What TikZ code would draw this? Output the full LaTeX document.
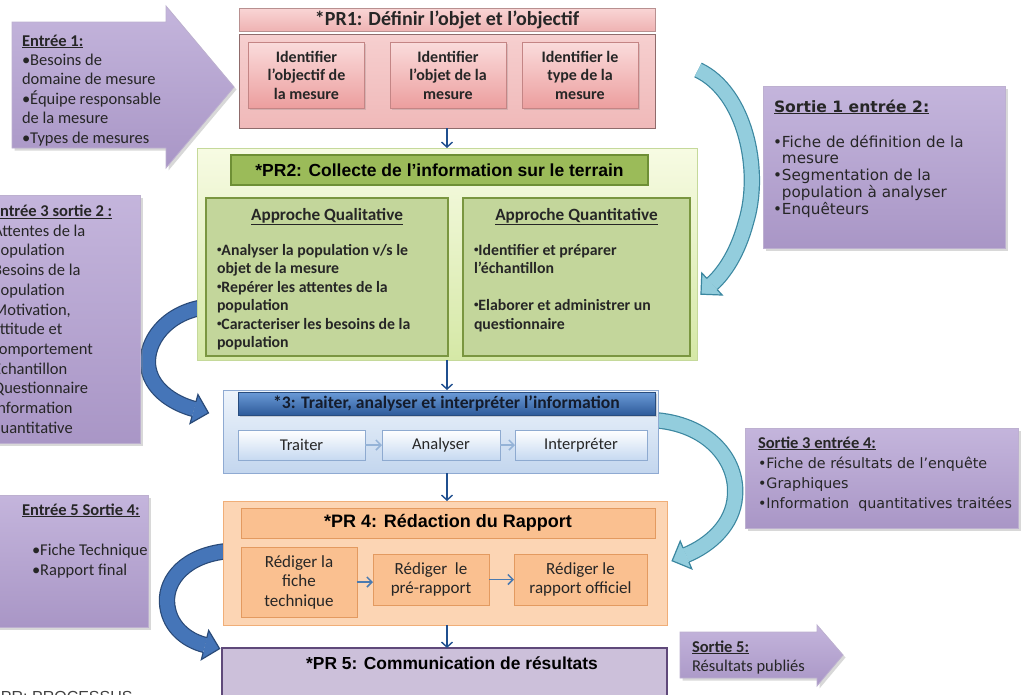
\documentclass[tikz,border=0pt]{standalone}
\usepackage{fontspec}
\setmainfont{Carlito}
\newfontfamily\arialf{Liberation Sans}
\newfontfamily\verdf{DejaVu Sans}
\usetikzlibrary{shadows,calc,arrows.meta}
\definecolor{txtc}{HTML}{262626}
\definecolor{purpT}{HTML}{C4B5DC}
\definecolor{purpB}{HTML}{A996C6}
\definecolor{purpBd}{HTML}{BDB0D0}
\definecolor{pinkHdT}{HTML}{F9D5D5}
\definecolor{pinkHdB}{HTML}{EFB3B3}
\definecolor{pinkHdBd}{HTML}{B89090}
\definecolor{pinkT}{HTML}{F6CFCF}
\definecolor{pinkB}{HTML}{F0B9B9}
\definecolor{pinkBd}{HTML}{8F6B6B}
\definecolor{pinkInT}{HTML}{FADCDC}
\definecolor{pinkInB}{HTML}{EC9E9E}
\definecolor{pinkInBd}{HTML}{C48585}
\definecolor{grnT}{HTML}{F7FBE3}
\definecolor{grnB}{HTML}{D5E8A6}
\definecolor{grnBd}{HTML}{C5D99A}
\definecolor{grnHd}{HTML}{9BBB59}
\definecolor{grnHdBd}{HTML}{6E8F35}
\definecolor{grnIn}{HTML}{C3D69B}
\definecolor{grnInBd}{HTML}{7A9640}
\definecolor{bluT}{HTML}{EEF4FB}
\definecolor{bluB}{HTML}{C3D6EE}
\definecolor{bluBd}{HTML}{8FAAD2}
\definecolor{bluHdT}{HTML}{6B9BD8}
\definecolor{bluHdB}{HTML}{2E5B9A}
\definecolor{bluHdBd}{HTML}{284C7E}
\definecolor{hdr3txt}{HTML}{141C2C}
\definecolor{bluInT}{HTML}{FFFFFF}
\definecolor{bluInB}{HTML}{C6D9F1}
\definecolor{bluInBd}{HTML}{8EAAD0}
\definecolor{bluAr}{HTML}{95B3D7}
\definecolor{orBox}{HTML}{FCD5B4}
\definecolor{orBoxBd}{HTML}{F0AE78}
\definecolor{orIn}{HTML}{FAC090}
\definecolor{orInBd}{HTML}{E39A60}
\definecolor{orAr}{HTML}{4A7AB0}
\definecolor{pr5c}{HTML}{CCC0DA}
\definecolor{pr5Bd}{HTML}{5F497A}
\definecolor{downc}{HTML}{1F4F8F}
\definecolor{lFill}{HTML}{4575B8}
\definecolor{lBd}{HTML}{2A4A78}
\definecolor{rFill}{HTML}{93CDDD}
\definecolor{rBd}{HTML}{3B87A0}
\definecolor{procc}{HTML}{404040}
\newcommand\fs[2]{\fontsize{#1}{#2}\selectfont}
\newcommand\tl[1]{\begin{tabular}[t]{@{}l@{}}#1\end{tabular}}
\newcommand\uln[1]{\underline{#1}}
\newcommand\sbul{\raisebox{0.18em}{\fontsize{9}{9}\selectfont•}}
\newcommand\bhead[4]{%
  \fill[#3] ($(#1)!15pt!90:(#2)$) -- (#2) -- ($(#1)!15pt!-90:(#2)$) -- cycle;
  \draw[#4,line width=1.2pt,line join=miter] ($(#1)!7.6pt!90:(#2)$) -- ($(#1)!15pt!90:(#2)$) -- (#2) -- ($(#1)!15pt!-90:(#2)$) -- ($(#1)!7.6pt!-90:(#2)$);}
\begin{document}
\begin{tikzpicture}[x=1pt,y=-1pt,
  box/.style={rectangle,inner sep=0pt,outer sep=0pt},
  lbl/.style={inner sep=0pt,outer sep=0pt,text=txtc},
  purp/.style={top color=purpT,bottom color=purpB,draw=purpBd,line width=0.8pt,drop shadow={shadow xshift=2.5pt,shadow yshift=-2.5pt,opacity=0.3}},
  down/.style={draw=downc,line width=1.4pt,-{Straight Barb[length=5pt,width=11pt]}},
  curvL/.style={draw=lBd,double=lFill,line width=1.2pt,double distance=14pt},
  curvR/.style={draw=rBd,double=rFill,line width=1.2pt,double distance=14pt},
  pinkin/.style={box,top color=pinkInT,bottom color=pinkInB,draw=pinkInBd,line width=0.8pt,minimum width=116pt,minimum height=66pt,align=center,font=\fs{16}{18.5}\bfseries,text=txtc,drop shadow={shadow xshift=1.5pt,shadow yshift=-1.5pt,opacity=0.25}},
  greenin/.style={box,fill=grnIn,draw=grnInBd,line width=1.8pt},
  bluein/.style={box,top color=bluInT,bottom color=bluInB,draw=bluInBd,line width=0.8pt,minimum height=30pt,font=\fs{16.5}{19},text=txtc},
  blar/.style={draw=bluAr,line width=1.5pt,-{Straight Barb[length=5pt,width=10pt]}},
  orin/.style={box,fill=orIn,draw=orInBd,line width=0.8pt,align=center,font=\fs{17}{19.5},text=txtc,minimum height=51pt},
  orar/.style={draw=orAr,line width=1.5pt,-{Straight Barb[length=5pt,width=10pt]}}
]
\useasboundingbox (0,0) rectangle (1023,694);
\fill[white] (0,0) rectangle (1023,694);

% ---------- curved arrows (behind boxes) ----------
\coordinate (ra1s) at (698,70);
\coordinate (ra1m) at (746,222);
\coordinate (ra1d) at (725,272);
\coordinate (ra1e) at (712,284);
\coordinate (ra1t) at ($(ra1e)!-15pt!(ra1d)$);
\draw[curvR] (ra1s) .. controls (745,92) and (762,170) .. (ra1m) .. controls (738,252) and (ra1d) .. (ra1e);
\bhead{ra1e}{ra1t}{rFill}{rBd}

\coordinate (ra2s) at (652,420);
\coordinate (ra2m) at (735,496);
\coordinate (ra2d) at (710,545);
\coordinate (ra2e) at (686,555);
\coordinate (ra2t) at ($(ra2e)!-15pt!(ra2d)$);
\draw[curvR] (ra2s) .. controls (708,423) and (738,460) .. (ra2m) .. controls (733,525) and (ra2d) .. (ra2e);
\bhead{ra2e}{ra2t}{rFill}{rBd}

\coordinate (la1s) at (205,307);
\coordinate (la1m) at (148,365);
\coordinate (la1d) at (172,403);
\coordinate (la1e) at (194,409);
\coordinate (la1t) at ($(la1e)!-15pt!(la1d)$);
\draw[curvL] (la1s) .. controls (165,313) and (146,342) .. (la1m) .. controls (150,388) and (la1d) .. (la1e);
\bhead{la1e}{la1t}{lFill}{lBd}

\coordinate (la2s) at (228,551);
\coordinate (la2m) at (167,602);
\coordinate (la2d) at (185,640);
\coordinate (la2e) at (205,645);
\coordinate (la2t) at ($(la2e)!-15pt!(la2d)$);
\draw[curvL] (la2s) .. controls (185,555) and (166,580) .. (la2m) .. controls (168,625) and (la2d) .. (la2e);
\bhead{la2e}{la2t}{lFill}{lBd}

% ---------- Entree 1 ----------
\path[purp] (12,22) -- (166,22) -- (166,6) -- (234,87) -- (166,168) -- (166,148) -- (12,148) -- cycle;
\node[lbl,anchor=base west,font=\fs{16.5}{19.4}] (e1) at (22,46) {\tl{\uln{\textbf{Entrée 1:}}\\•Besoins de\\domaine de mesure\\•Équipe responsable\\de la mesure\\•Types de mesures}};

% ---------- PR1 ----------
\node[box,top color=pinkHdT,bottom color=pinkHdB,draw=pinkHdBd,line width=0.8pt,minimum width=416pt,minimum height=23pt,font=\fs{20}{22}\bfseries,text=txtc] (pr1h) at (447,19.5) {*PR1: Définir l’objet et l’objectif};
\node[box,top color=pinkT,bottom color=pinkB,draw=pinkBd,line width=1pt,minimum width=416pt,minimum height=94pt] (pr1) at (447,81) {};
\node[pinkin] (p1a) at (306.5,75) {Identifier\\l’objectif de\\la mesure};
\node[pinkin] (p1b) at (448,75) {Identifier\\l’objet de la\\mesure};
\node[pinkin] (p1c) at (580,75) {Identifier le\\type de la\\mesure};

% ---------- PR2 ----------
\node[box,top color=grnT,bottom color=grnB,draw=grnBd,line width=1pt,minimum width=500pt,minimum height=212pt] (pr2) at (447,254) {};
\node[box,fill=grnHd,draw=grnHdBd,line width=1.5pt,minimum width=417pt,minimum height=30pt,font=\arialf\fs{17.5}{20}\bfseries,text=black] (pr2h) at (439.5,170) {*PR2: Collecte de l’information sur le terrain};
\node[greenin,minimum width=242pt,minimum height=158pt] (qual) at (327,277) {};
\node[greenin,minimum width=227pt,minimum height=158pt] (quant) at (576.5,277) {};
\node[lbl,anchor=base,font=\fs{17.2}{19}\bfseries] (qualt) at (327,220) {\uln{Approche Qualitative}};
\node[lbl,anchor=base west,font=\fs{15.8}{18.5}\bfseries] (qualb) at (217,255) {\tl{\sbul Analyser la population v/s le\\objet de la mesure\\\sbul Repérer les attentes de la\\population\\\sbul Caracteriser les besoins de la\\population}};
\node[lbl,anchor=base,font=\fs{17.2}{19}\bfseries] (quantt) at (576.5,220) {\uln{Approche Quantitative}};
\node[lbl,anchor=base west,font=\fs{15.8}{18.5}\bfseries] (quantb) at (474,255) {\tl{\sbul Identifier et préparer\\l’échantillon\\\mbox{}\\\sbul Elaborer et administrer un\\questionnaire}};

% ---------- PR3 ----------
\node[box,top color=bluT,bottom color=bluB,draw=bluBd,line width=1pt,minimum width=435pt,minimum height=83pt] (pr3) at (440.5,431.5) {};
\node[box,top color=bluHdT,bottom color=bluHdB,draw=bluHdBd,line width=0.8pt,minimum width=417pt,minimum height=23pt,font=\fs{17.6}{19}\bfseries,text=hdr3txt,drop shadow={shadow xshift=1.5pt,shadow yshift=-1.5pt,opacity=0.3}] (pr3h) at (446.5,403.5) {*3: Traiter, analyser et interpréter l’information};
\node[bluein,minimum width=127pt] (t1) at (301.5,445) {Traiter};
\node[bluein,minimum width=118pt] (t2) at (441,445) {Analyser};
\node[bluein,minimum width=132pt] (t3) at (581,445) {Interpréter};
\draw[blar] (t1) -- (t2);
\draw[blar] (t2) -- (t3);

% ---------- PR4 ----------
\node[box,fill=orBox,draw=orBoxBd,line width=1pt,minimum width=444pt,minimum height=124pt] (pr4) at (445,563) {};
\node[box,fill=orIn,draw=orInBd,line width=0.8pt,minimum width=414pt,minimum height=30pt,font=\arialf\fs{18}{20}\bfseries,text=black] (pr4h) at (448,523) {*PR 4: Rédaction du Rapport};
\node[orin,minimum width=116pt,minimum height=70pt] (r1) at (299,582) {Rédiger la\\fiche\\technique};
\node[orin,minimum width=116pt] (r2) at (431,579.5) {Rédiger~~le\\pré-rapport};
\node[orin,minimum width=133pt] (r3) at (580.5,579.5) {Rédiger le\\rapport officiel};
\draw[orar] (r1.east) -- (r1.east -| r2.west);
\draw[orar] (r2) -- (r3);

% ---------- PR5 ----------
\node[box,fill=pr5c,draw=pr5Bd,line width=2pt,minimum width=445pt,minimum height=72pt] (pr5) at (444.5,684) {};
\node[lbl,anchor=base,font=\arialf\fs{17.4}{20}\bfseries,text=black] (pr5t) at (452,669) {*PR 5: Communication de résultats};

% ---------- vertical arrows ----------
\draw[down] (pr1.south) -- (pr2.north);
\draw[down] (pr2.south) -- (pr2.south |- pr3.north);
\draw[down] (pr2.south |- pr3.south) -- (pr2.south |- pr4.north);
\draw[down] (pr2.south |- pr4.south) -- (pr2.south |- pr5.north);

% ---------- Sortie 1 entree 2 ----------
\node[box,purp,minimum width=242pt,minimum height=162pt] (s1) at (884,167) {};
\node[lbl,anchor=base west,font=\verdf\fs{15.6}{17}\bfseries] (s1t) at (774,112) {\uln{Sortie 1 entrée 2:}};
\node[lbl,anchor=base west,font=\verdf\fs{15.2}{16.5}] (s1b) at (773,147) {\tl{•Fiche de définition de la\\\phantom{•}mesure\\•Segmentation de la\\\phantom{•}population à analyser\\•Enquêteurs}};

% ---------- Entree 3 sortie 2 ----------
\node[box,purp,minimum width=150pt,minimum height=248pt] (e3) at (65,319) {};
\node[lbl,anchor=base west,font=\fs{16.5}{19.7}] (e3t) at (-8,216.5) {\tl{\uln{\textbf{Entrée 3 sortie 2 :}}\\\hspace{-7pt}•Attentes de la\\population\\\hspace{-7pt}•Besoins de la\\population\\\hspace{-7pt}•Motivation,\\attitude et\\comportement\\\hspace{-7pt}•Echantillon\\\hspace{-7pt}•Questionnaire\\\hspace{-7pt}•Information\\quantitative}};

% ---------- Sortie 3 entree 4 ----------
\node[box,purp,minimum width=273pt,minimum height=100pt] (s3) at (881.5,478) {};
\node[lbl,anchor=base west,font=\fs{16.5}{19}\bfseries] (s3t) at (758,448) {\uln{Sortie 3 entrée 4:}};
\node[lbl,anchor=base west,font=\verdf\fs{14.3}{20}] (s3b) at (758,468) {\tl{•Fiche de résultats de l’enquête\\•Graphiques\\•Information~~quantitatives traitées}};

% ---------- Entree 5 sortie 4 ----------
\node[box,purp,minimum width=158pt,minimum height=132pt] (e5) at (69,561) {};
\node[lbl,anchor=base west,font=\fs{16.5}{19}\bfseries] (e5t) at (22,515) {\uln{Entrée 5 Sortie 4:}};
\node[lbl,anchor=base west,font=\fs{16.5}{20}] (e5b) at (32,555) {\tl{•Fiche Technique\\•Rapport final}};

% ---------- Sortie 5 ----------
\path[purp] (680,632) -- (817,632) -- (817,625) -- (843,655) -- (817,686) -- (817,678) -- (680,678) -- cycle;
\node[lbl,anchor=base west,font=\fs{16.5}{19}] (s5) at (692,652) {\tl{\uln{\textbf{Sortie 5:}}\\Résultats publiés}};

% ---------- legend ----------
\node[lbl,anchor=base west,font=\arialf\fs{16}{18},text=procc] (proc) at (1,702) {PR: PROCESSUS};
\end{tikzpicture}
\end{document}
